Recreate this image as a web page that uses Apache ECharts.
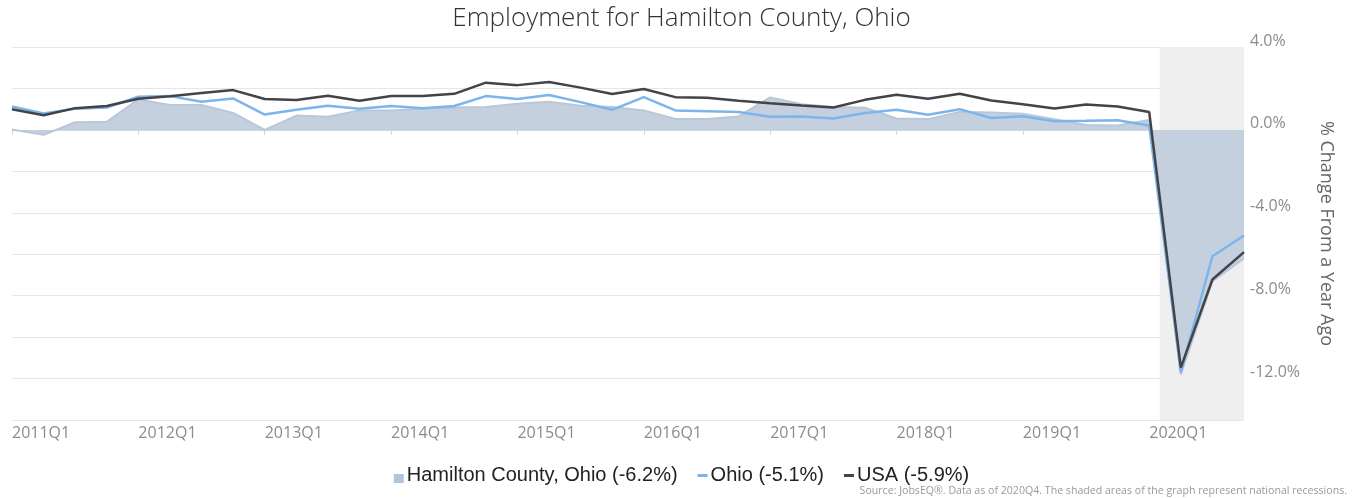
<!DOCTYPE html>
<html>
<head>
<meta charset="utf-8">
<title>Employment for Hamilton County, Ohio</title>
<script src="https://cdn.jsdelivr.net/npm/echarts@6/dist/echarts.min.js"></script>
<style>
  html, body { margin: 0; padding: 0; background: #fff; }
  #chart { width: 1363px; height: 498px; }
</style>
</head>
<body>
<div id="chart"></div>
<script>
// quarters 2011Q1 .. 2020Q4
var years = [2011, 2012, 2013, 2014, 2015, 2016, 2017, 2018, 2019, 2020];
var quarters = [];
years.forEach(function (y) {
  for (var q = 1; q <= 4; q++) quarters.push(y + 'Q' + q);
});

// % change from a year ago
var hamilton = [0.02, -0.24, 0.37, 0.39, 1.47, 1.2, 1.2, 0.82, 0.0, 0.69,
  0.63, 0.94, 0.94, 1.02, 1.08, 1.11, 1.26, 1.36, 1.16, 1.1,
  0.94, 0.53, 0.52, 0.65, 1.57, 1.24, 1.11, 1.07, 0.55, 0.52,
  0.87, 0.84, 0.78, 0.52, 0.24, 0.21, 0.48, -11.8, -7.3, -6.2];
var ohio = [1.13, 0.79, 1.02, 1.08, 1.6, 1.63, 1.36, 1.52, 0.74, 0.97,
  1.16, 1.02, 1.15, 1.05, 1.15, 1.63, 1.49, 1.68, 1.34, 0.97,
  1.58, 0.94, 0.9, 0.86, 0.63, 0.65, 0.55, 0.82, 0.97, 0.73,
  1.0, 0.57, 0.66, 0.42, 0.44, 0.47, 0.21, -11.7, -6.1, -5.1];
var usa = [1.0, 0.71, 1.05, 1.15, 1.5, 1.62, 1.78, 1.92, 1.49, 1.44,
  1.65, 1.41, 1.63, 1.63, 1.74, 2.28, 2.16, 2.31, 2.04, 1.73,
  1.97, 1.58, 1.55, 1.41, 1.29, 1.18, 1.08, 1.45, 1.70, 1.5,
  1.74, 1.42, 1.24, 1.03, 1.23, 1.13, 0.86, -11.47, -7.22, -5.9];

// recession band, in quarter index units (Feb 2020 -> end)
var recession = [36.33, 39];

var names = ['Hamilton County, Ohio (-6.2%)', 'Ohio (-5.1%)', 'USA (-5.9%)'];

var squareIcon = 'path://M0,0L0,0M0,8h10v9h-10zM0,18L0,18';
var lineIcon = 'path://M0,0L0,0M0,8h10v3h-10zM0,18L0,18';

var chart = echarts.init(document.getElementById('chart'));
chart.setOption({
  animation: false,
  title: [{
    text: 'Employment for Hamilton County, Ohio',
    left: 'center',
    top: 1,
    textStyle: { fontFamily: 'Open Sans', fontWeight: 300, fontSize: 26, color: '#333' }
  }, {
    text: 'Source: JobsEQ®. Data as of 2020Q4. The shaded areas of the graph represent national recessions.',
    right: 11,
    top: 480,
    textStyle: { fontFamily: 'Open Sans', fontWeight: 'normal', fontSize: 10.6, color: '#999' }
  }],
  legend: {
    bottom: 8,
    left: 'center',
    itemWidth: 10,
    itemHeight: 18,
    itemGap: 20,
    textStyle: { fontFamily: 'Liberation Sans', fontSize: 20, color: '#222', padding: [0, 0, 0, -2] },
    data: [
      { name: names[0], icon: squareIcon },
      { name: names[1], icon: lineIcon },
      { name: names[2], icon: lineIcon }
    ]
  },
  grid: { left: 12, right: 119, top: 47, bottom: 78 },
  xAxis: [{
    type: 'category',
    data: quarters,
    boundaryGap: false,
    axisLine: { lineStyle: { color: '#ccd6eb' } },
    axisTick: {
      length: 5,
      lineStyle: { color: '#ccd6eb' },
      interval: function (i) { return i % 4 === 0; }
    },
    axisLabel: {
      interval: function (i) { return i % 4 === 0; },
      align: 'left',
      margin: 5,
      fontFamily: 'Open Sans',
      fontSize: 16,
      color: '#8c8c8c'
    },
    splitLine: { show: false }
  }, {
    type: 'value',
    min: 0,
    max: quarters.length - 1,
    show: false
  }],
  yAxis: {
    type: 'value',
    position: 'right',
    min: -14,
    max: 4,
    interval: 2,
    name: '% Change From a Year Ago',
    nameLocation: 'middle',
    nameRotate: -90,
    nameGap: 73,
    nameTextStyle: { fontFamily: 'Open Sans', fontSize: 18, color: '#666' },
    axisLine: { show: false },
    axisTick: { show: false },
    axisLabel: {
      margin: 6,
      verticalAlign: 'bottom',
      padding: [0, 0, -2, 0],
      fontFamily: 'Open Sans',
      fontSize: 16,
      color: '#8c8c8c',
      formatter: function (v) { return v % 4 === 0 ? v.toFixed(1) + '%' : ''; }
    },
    splitLine: { lineStyle: { color: '#e6e6e6' } }
  },
  series: [{
    name: 'recession',
    type: 'line',
    xAxisIndex: 1,
    data: [],
    z: 1,
    silent: true,
    markArea: {
      silent: true,
      itemStyle: { color: '#efefef' },
      data: [[{ xAxis: recession[0] }, { xAxis: recession[1] }]]
    }
  }, {
    name: names[0],
    type: 'line',
    data: hamilton,
    symbol: 'none',
    color: '#b0c4de',
    lineStyle: { width: 2, color: '#b9c7da' },
    areaStyle: { color: '#c5d0df', opacity: 1 },
    z: 2
  }, {
    name: names[1],
    type: 'line',
    data: ohio,
    symbol: 'none',
    color: '#7cb5ec',
    lineStyle: { width: 2.5 },
    z: 3
  }, {
    name: names[2],
    type: 'line',
    data: usa,
    symbol: 'none',
    color: '#434348',
    lineStyle: { width: 2.5 },
    z: 4
  }]
});
</script>
</body>
</html>
